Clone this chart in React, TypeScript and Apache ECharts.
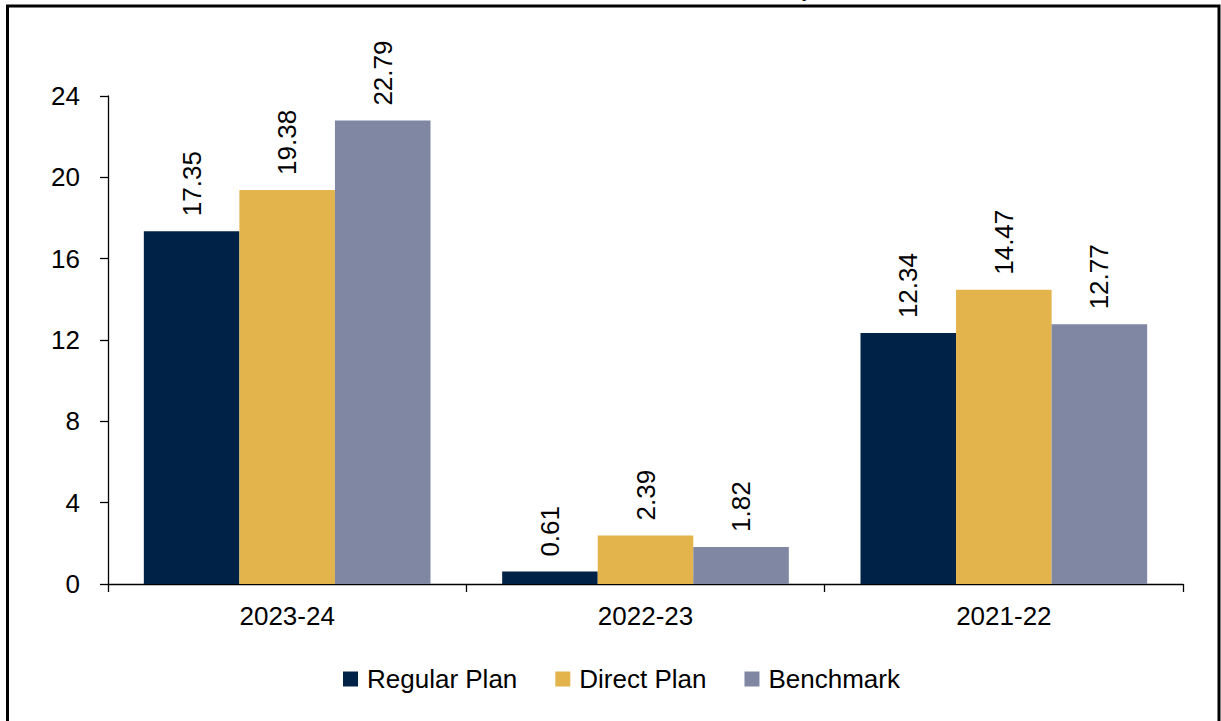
import React, { useEffect, useRef } from "react";
import * as echarts from "echarts";

const categories = ["2023-24", "2022-23", "2021-22"];
const regularPlan = [17.35, 0.61, 12.34];
const directPlan = [19.38, 2.39, 14.47];
const benchmark = [22.79, 1.82, 12.77];
const seriesNames = ["Regular Plan", "Direct Plan", "Benchmark"];
const colors = ["#012247", "#E3B44B", "#7F87A3"];

const FONT = "'Liberation Sans', Arial, sans-serif";

export default function App() {
  const ref = useRef<HTMLDivElement>(null);
  useEffect(() => {
    if (!ref.current) return;
    const chart = echarts.init(ref.current, undefined, { renderer: "svg" });
    const values = [regularPlan, directPlan, benchmark];
    chart.setOption({
      animation: false,
      backgroundColor: "#ffffff",
      textStyle: { fontFamily: FONT },
      grid: { left: 108, right: 38, top: 96, bottom: 137, containLabel: false },
      legend: {
        bottom: 24,
        left: 338,
        itemWidth: 15,
        itemHeight: 15,
        itemGap: 38,
        icon: "rect",
        textStyle: { fontSize: 26, color: "#000", fontFamily: FONT, padding: [0, 0, 0, 4] },
        data: seriesNames,
      },
      xAxis: {
        type: "category",
        data: categories,
        axisLine: { show: true, lineStyle: { color: "#000", width: 1.3 } },
        axisTick: { show: true, length: 8, lineStyle: { color: "#000", width: 1.3 } },
        axisLabel: { fontSize: 26, color: "#000", margin: 19, fontFamily: FONT },
        splitLine: { show: false },
      },
      yAxis: {
        type: "value",
        min: 0,
        max: 24,
        interval: 4,
        axisLine: { show: true, lineStyle: { color: "#000", width: 1.3 } },
        axisTick: { show: true, length: 8, lineStyle: { color: "#000", width: 1.3 } },
        axisLabel: { fontSize: 26, color: "#000", margin: 28, fontFamily: FONT },
        splitLine: { show: false },
      },
      series: seriesNames.map((name, i) => ({
        name,
        type: "bar",
        data: values[i],
        barGap: "0%",
        barCategoryGap: "20%",
        itemStyle: { color: colors[i] },
        label: {
          show: true,
          position: "top",
          rotate: 90,
          align: "left",
          verticalAlign: "middle",
          distance: 15,
          fontSize: 26,
          color: "#000",
          fontFamily: FONT,
          formatter: (p: any) => p.value.toFixed(2),
        },
      })),
      graphic: [
        {
          type: "rect",
          shape: { x: 7.5, y: 6, width: 1211.5, height: 740 },
          style: { fill: "none", stroke: "#000", lineWidth: 3 },
          silent: true,
        },
        {
          type: "text",
          x: 802,
          y: -1,
          style: {
            text: "y",
            fontFamily: "'Liberation Serif', serif",
            fontWeight: "bold",
            fontSize: 22,
            fill: "#000",
            textVerticalAlign: "bottom",
          },
          silent: true,
        },
      ],
    });
    return () => chart.dispose();
  }, []);
  return (
    <div
      ref={ref}
      style={{ position: "absolute", left: 0, top: 0, width: 1221, height: 721 }}
    />
  );
}
